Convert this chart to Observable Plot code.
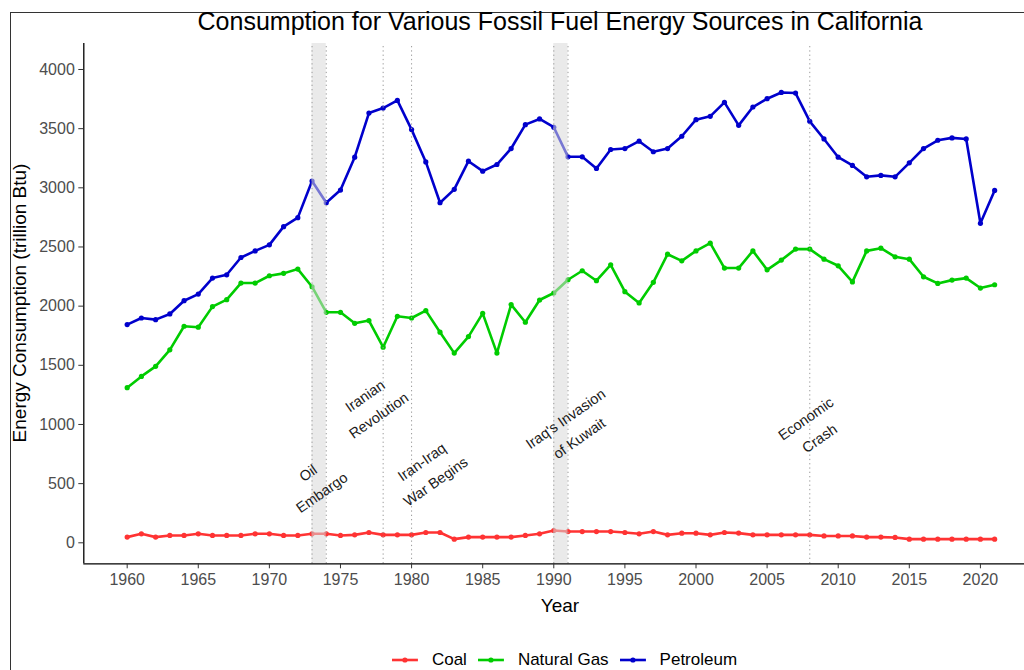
<!DOCTYPE html>
<html><head><meta charset="utf-8">
<script src="https://cdn.jsdelivr.net/npm/d3@7"></script>
<script src="https://cdn.jsdelivr.net/npm/@observablehq/plot@0.6"></script>
<style>
html,body{margin:0;padding:0;background:#fff;overflow:hidden;width:1024px;height:670px;}
#wrap{position:relative;width:1024px;height:670px;overflow:hidden;font-family:"Liberation Sans",Arial,sans-serif;}
#border{position:absolute;left:9.5px;top:11.5px;width:2000px;height:2000px;border:1px solid #333;box-sizing:border-box;}
#chart{position:absolute;left:0;top:0;}
#title{position:absolute;top:7px;left:0;width:1120px;text-align:center;font-size:25px;color:#000;white-space:nowrap;}
#ylab{position:absolute;left:20px;top:303px;transform:translate(-50%,-50%) rotate(-90deg);font-size:19px;color:#000;white-space:nowrap;}
#xlab{position:absolute;left:560px;top:606px;transform:translate(-50%,-50%);font-size:19px;color:#000;white-space:nowrap;}
#legend{position:absolute;left:570px;top:660px;transform:translate(-50%,-50%);display:flex;align-items:center;font-size:17px;line-height:18px;color:#000;white-space:nowrap;}
#legend .item{display:flex;align-items:center;margin-right:11px;}
#legend svg{margin-right:14px;}
</style>
</head><body>
<div id="wrap">
  <div id="border"></div>
  <div id="chart"></div>
  <div id="title">Consumption for Various Fossil Fuel Energy Sources in California</div>
  <div id="ylab">Energy Consumption (trillion Btu)</div>
  <div id="xlab">Year</div>
  <div id="legend"></div>
</div>
<script>
const years = [1960,1961,1962,1963,1964,1965,1966,1967,1968,1969,
  1970,1971,1972,1973,1974,1975,1976,1977,1978,1979,
  1980,1981,1982,1983,1984,1985,1986,1987,1988,1989,
  1990,1991,1992,1993,1994,1995,1996,1997,1998,1999,
  2000,2001,2002,2003,2004,2005,2006,2007,2008,2009,
  2010,2011,2012,2013,2014,2015,2016,2017,2018,2019,
  2020,2021];
const coal = [48,76,48,62,62,76,62,62,62,76,
  76,62,62,76,76,62,67,87,67,67,
  67,87,87,31,48,48,48,48,62,76,
  104,95,95,95,95,87,76,95,67,81,
  81,67,87,82,67,67,67,67,67,58,
  58,58,48,48,45,31,31,31,31,31,
  31,31];
const naturalGas = [1311,1406,1491,1631,1830,1822,1996,2055,2195,2195,
  2257,2277,2313,2164,1948,1948,1855,1878,1653,1914,
  1900,1962,1780,1603,1743,1939,1603,2013,1864,2052,
  2111,2223,2299,2215,2349,2122,2027,2201,2439,2383,
  2467,2532,2322,2322,2467,2307,2389,2482,2482,2397,
  2341,2205,2467,2490,2417,2397,2248,2192,2220,2237,
  2153,2181];
const petroleum = [1844,1900,1886,1934,2046,2102,2237,2265,2411,2467,
  2518,2672,2748,3057,2874,2981,3259,3632,3674,3739,
  3492,3219,2874,2987,3225,3141,3197,3332,3534,3582,
  3512,3262,3262,3164,3324,3332,3394,3305,3332,3436,
  3576,3604,3722,3528,3683,3753,3806,3801,3562,3413,
  3259,3189,3093,3105,3093,3211,3332,3402,3422,3413,
  2700,2978];
const fuels = ["Coal","Natural Gas","Petroleum"];
const fuelColors = ["#FF3333","#00CC00","#0000CC"];
const xTicks = [1960,1965,1970,1975,1980,1985,1990,1995,2000,2005,2010,2015,2020];
const yTicks = [0,500,1000,1500,2000,2500,3000,3500,4000];
const shadeStart = [1973,1990];
const shadeEnd = [1974,1991];
const eventLines = [1973,1974,1978,1980,1990,1991,2008];
const annotLabels = ["Oil\nEmbargo","Iranian\nRevolution","Iran-Iraq\nWar Begins","Iraq's Invasion\nof Kuwait","Economic\nCrash"];
const annotX = [1973.1,1977.1,1981.1,1991.2,2008.1];
const annotY = [525,1177,619,984,984];

const series = {"Coal":coal,"Natural Gas":naturalGas,"Petroleum":petroleum};
const data = fuels.flatMap(f => years.map((yr,i) => ({year:yr, fuel:f, value:series[f][i]})));
const shades = shadeStart.map((s,i)=>({x1:s,x2:shadeEnd[i]}));
const annots = annotLabels.map((t,i)=>({label:t,x:annotX[i],y:annotY[i]}));

const xDom = [1956.95, 2023.1];
const yDom = [-177.5, 4219.7];

const chart = Plot.plot({
  width:1024, height:670,
  marginTop:43, marginBottom:106.7, marginLeft:83.3, marginRight:0,
  x:{domain:xDom},
  y:{domain:yDom},
  color:{domain:fuels, range:fuelColors},
  style:{fontFamily:'"Liberation Sans",Arial,sans-serif', fontSize:"16px", background:"transparent", overflow:"visible"},
  marks:[
    Plot.line(data,{x:"year",y:"value",stroke:"fuel",z:"fuel",strokeWidth:2.6}),
    Plot.dot(data,{x:"year",y:"value",fill:"fuel",r:2.6}),
    Plot.rect(shades,{x1:"x1",x2:"x2",y1:yDom[0],y2:yDom[1],fill:"#d8d8d8",fillOpacity:0.55}),
    Plot.ruleX(eventLines,{x:d=>d,y1:yDom[0],y2:yDom[1],stroke:"#9a9a9a",strokeWidth:1,strokeDasharray:"1.3,3"}),
    Plot.text(annots,{x:"x",y:"y",text:"label",rotate:-35,fontSize:14.5,lineHeight:1.65,fill:"#1a1a1a"}),
    Plot.ruleX([xDom[0]],{y1:yDom[0],y2:yDom[1],stroke:"#000",strokeWidth:1.3}),
    Plot.ruleY([yDom[0]],{x1:xDom[0],x2:xDom[1],stroke:"#000",strokeWidth:1.3}),
    Plot.axisX({ticks:xTicks, tickFormat:d=>String(d), tickSize:5, tickPadding:5, label:null, stroke:"#333", fill:"#4D4D4D", fontSize:16}),
    Plot.axisY({ticks:yTicks, tickFormat:d=>String(d), tickSize:5, tickPadding:4, label:null, stroke:"#333", fill:"#4D4D4D", fontSize:16})
  ]
});
document.getElementById("chart").appendChild(chart);

const legend = document.getElementById("legend");
fuels.forEach((f,i)=>{
  const item = document.createElement("div");
  item.className = "item";
  item.innerHTML = `<svg width="26" height="10"><line x1="0" y1="5" x2="26" y2="5" stroke="${fuelColors[i]}" stroke-width="2.6"/><circle cx="13" cy="5" r="2.6" fill="${fuelColors[i]}"/></svg><span>${f}</span>`;
  legend.appendChild(item);
});
</script>
</body></html>
